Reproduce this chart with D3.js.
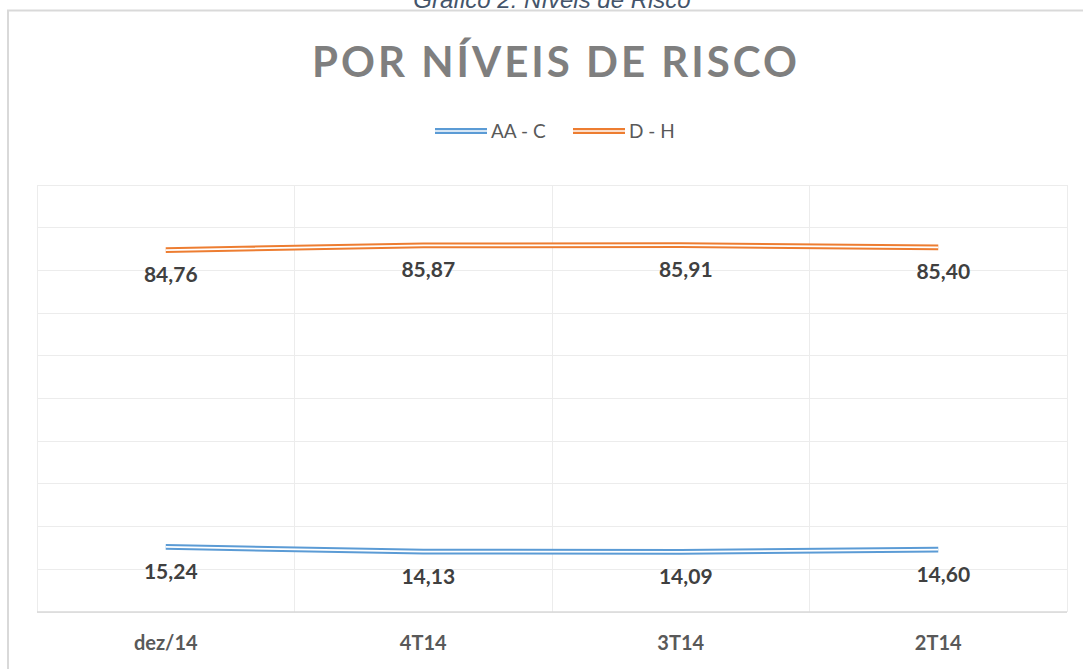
<!DOCTYPE html>
<meta charset="utf-8">
<style>
body{
	margin:0;
	background:#fff;
}
text{
	font-family:Lato, "Open Sans", sans-serif;
}
.caption{
	font-family:"Liberation Sans", Arial, sans-serif;
	font-style:italic;
	font-size:24px;
	fill:#44546a;
	text-anchor:middle;
}
.title{
	font-size:42px;
	font-weight:bold;
	letter-spacing:3px;
	fill:#7f7f7f;
	text-anchor:middle;
}
.legend text{
	font-size:19px;
	fill:#595959;
}
.grid line{
	stroke:#ececec;
	stroke-width:1px;
	shape-rendering:crispEdges;
}
.xlab{
	font-size:20px;
	font-weight:bold;
	fill:#595959;
	text-anchor:middle;
}
.val{
	font-size:21px;
	font-weight:bold;
	fill:#404040;
	text-anchor:middle;
}
</style>
<body>
<script src="https://cdn.jsdelivr.net/npm/d3@7"></script>
<script>

var categories=['dez/14','4T14','3T14','2T14'];
var seriesNames=['AA - C','D - H'];
var valuesAAC=[15.24,14.13,14.09,14.60];
var valuesDH=[84.76,85.87,85.91,85.40];
var yTicks=[0,10,20,30,40,50,60,70,80,90,100];

var color={'AA - C':'#5b9bd5','D - H':'#ed7d31'};
var series=[
	{name:seriesNames[0],values:valuesAAC},
	{name:seriesNames[1],values:valuesDH}
];

var W=1083,H=669;
var svg=d3.select("body").append("svg").attr("width",W).attr("height",H);

// outer chart frame
svg.append("rect")
	.attr("x",8).attr("y",10.5)
	.attr("width",1100).attr("height",700)
	.attr("fill","#fff")
	.attr("stroke","#d9d9d9")
	.attr("stroke-width",2);

// caption above the frame (partly outside the page, as in the source image)
svg.append("text").attr("class","caption")
	.attr("x",552).attr("y",8)
	.text("Gráfico 2: Níveis de Risco");

svg.append("text").attr("class","title")
	.attr("x",556).attr("y",77)
	.text("POR NÍVEIS DE RISCO");

var x=d3.scaleBand().domain(categories).range([37,1067]).padding(0);
var y=d3.scaleLinear().domain([0,100]).range([612,185]);

// gridlines
var grid=svg.append("g").attr("class","grid");
grid.selectAll(".h").data(yTicks).enter().append("line")
	.attr("x1",x.range()[0]).attr("x2",x.range()[1])
	.attr("y1",d=>y(d)).attr("y2",d=>y(d));
grid.selectAll(".v").data(categories.concat(["end"])).enter().append("line")
	.attr("x1",(d,i)=>x.range()[0]+i*x.bandwidth())
	.attr("x2",(d,i)=>x.range()[0]+i*x.bandwidth())
	.attr("y1",y(0)).attr("y2",y(100));

// category axis
svg.append("line")
	.attr("x1",x.range()[0]).attr("x2",x.range()[1])
	.attr("y1",y(0)).attr("y2",y(0))
	.attr("stroke","#d9d9d9").attr("stroke-width",1.5);

svg.selectAll(".xlab").data(categories).enter().append("text").attr("class","xlab")
	.attr("x",d=>x(d)+x.bandwidth()/2)
	.attr("y",y(0)+38)
	.text(d=>d);

var line=d3.line()
	.x((d,i)=>x(categories[i])+x.bandwidth()/2)
	.y(d=>y(d));

// double lines: wide coloured stroke with a thin white core
series.forEach(function(s){
	var g=svg.append("g");
	g.append("path").attr("d",line(s.values))
		.attr("fill","none").attr("stroke",color[s.name]).attr("stroke-width",5.8);
	g.append("path").attr("d",line(s.values))
		.attr("fill","none").attr("stroke","#fff").attr("stroke-width",1.7);

	g.selectAll(".val").data(s.values).enter().append("text").attr("class","val")
		.attr("x",(d,i)=>x(categories[i])+x.bandwidth()/2+5)
		.attr("y",d=>y(d)+32)
		.text(d=>d3.format(".2f")(d).replace(".",","));
});

// legend
var lg=svg.append("g").attr("class","legend");
var legX=[435,573];
seriesNames.forEach(function(n,i){
	lg.append("line").attr("x1",legX[i]).attr("x2",legX[i]+52).attr("y1",131).attr("y2",131)
		.attr("stroke",color[n]).attr("stroke-width",5.8);
	lg.append("line").attr("x1",legX[i]).attr("x2",legX[i]+52).attr("y1",131).attr("y2",131)
		.attr("stroke","#fff").attr("stroke-width",1.7);
	lg.append("text").attr("x",legX[i]+56).attr("y",138).text(n);
});

</script>
</body>
</html>
